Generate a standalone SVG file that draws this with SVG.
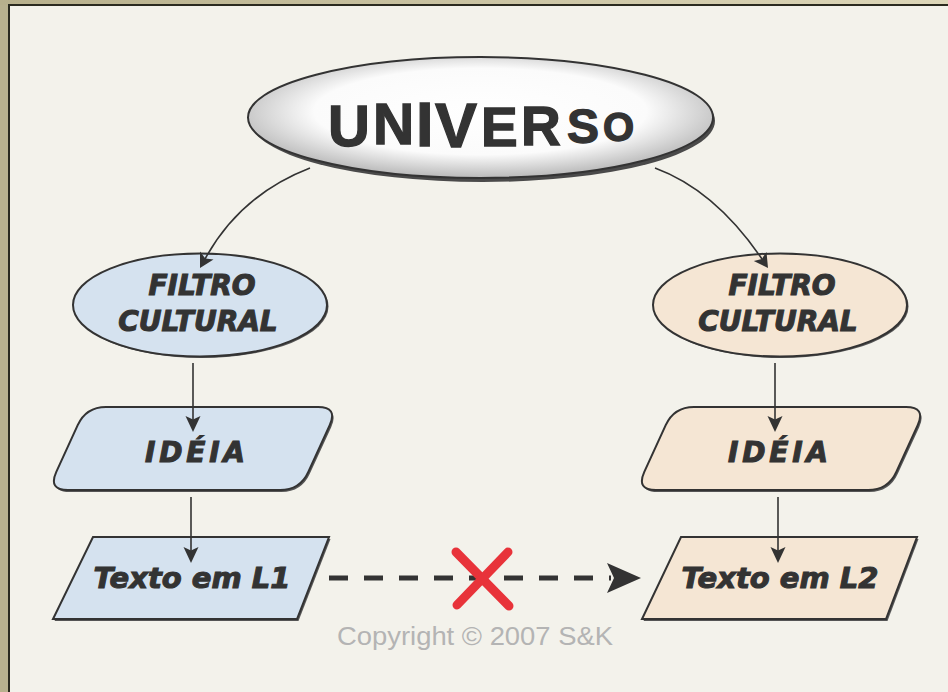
<svg xmlns="http://www.w3.org/2000/svg" width="948" height="692" viewBox="0 0 948 692">
  <defs>
    <linearGradient id="band" x1="0" y1="0" x2="1" y2="0">
      <stop offset="0" stop-color="#b7b08c"/>
      <stop offset="1" stop-color="#ddd7b9"/>
    </linearGradient>
    <radialGradient id="uni" cx="0.5" cy="0.45" r="0.55">
      <stop offset="0" stop-color="#ffffff"/>
      <stop offset="0.65" stop-color="#fbfbfb"/>
      <stop offset="1" stop-color="#b9b9b9"/>
    </radialGradient>
    <style>
      .conn { fill: none; stroke: #333; stroke-width: 1.6; }
      .ah { fill: #333; stroke: none; }
      .blue { fill: #d5e2ef; stroke: #333; stroke-width: 2; }
      .tan { fill: #f5e6d4; stroke: #333; stroke-width: 2; }
      .shadow { fill: #555; }
      .lbl { font-family: "DejaVu Sans", "Liberation Sans", sans-serif; font-weight: bold; font-style: italic; fill: #333; stroke: #333; stroke-width: 1.1; text-anchor: middle; }
    </style>
  </defs>

  <!-- frame -->
  <rect x="0" y="0" width="948" height="692" fill="#b8b18e"/>
  <rect x="0" y="0" width="948" height="5" fill="url(#band)"/>
  <rect x="8" y="4" width="940" height="688" fill="#2a2a1f"/>
  <rect x="10" y="6" width="938" height="686" fill="#f3f2eb"/>

  <!-- UNIVERSO -->
  <g id="universo">
    <ellipse cx="483" cy="121" rx="232" ry="61" fill="#4a4a4a"/>
    <ellipse cx="480.5" cy="117.5" rx="232.5" ry="60.5" fill="url(#uni)" stroke="#333" stroke-width="2"/>
    <text font-family="'Liberation Sans', Arial, sans-serif" font-weight="bold" fill="#333" stroke="#333" stroke-width="1.3"><tspan x="328" y="146" font-size="58">U</tspan><tspan x="373" y="144" font-size="57">N</tspan><tspan x="416" y="146" font-size="63">I</tspan><tspan x="435" y="147" font-size="63">V</tspan><tspan x="481" y="146" font-size="55">E</tspan><tspan x="521" y="145" font-size="55">R</tspan><tspan x="567" y="143" font-size="48">S</tspan><tspan x="603" y="141" font-size="40">O</tspan></text>
  </g>

  <!-- left column -->
  <g id="filtro-l1">
    <ellipse cx="201.5" cy="306.5" rx="127" ry="51.5" class="shadow"/>
    <ellipse cx="200" cy="305" rx="127" ry="51.5" class="blue"/>
    <text class="lbl" x="202" y="295" font-size="28">FILTRO</text>
    <text class="lbl" x="198" y="331" font-size="28">CULTURAL</text>
  </g>
  <g id="ideia-l1">
    <path class="shadow" transform="translate(1.5,2)" d="M106,407 L318,407 Q338,407 329.7,425.2 L308.3,471.8 Q300,490 280,490 L68,490 Q48,490 56.3,471.8 L77.7,425.2 Q86,407 106,407 Z"/>
    <path class="blue" d="M106,407 L318,407 Q338,407 329.7,425.2 L308.3,471.8 Q300,490 280,490 L68,490 Q48,490 56.3,471.8 L77.7,425.2 Q86,407 106,407 Z"/>
    <text class="lbl" x="195" y="462" font-size="28" textLength="100" lengthAdjust="spacing">IDÉIA</text>
  </g>
  <g id="texto-l1">
    <polygon class="shadow" transform="translate(1.5,2)" points="93,537 329,537 297,619 53,619"/>
    <polygon class="blue" points="93,537 329,537 297,619 53,619"/>
    <text class="lbl" x="192" y="588" font-size="29">Texto em L1</text>
  </g>

  <!-- right column -->
  <g id="filtro-l2">
    <ellipse cx="781.5" cy="306.5" rx="127" ry="51.5" class="shadow"/>
    <ellipse cx="780" cy="305" rx="127" ry="51.5" class="tan"/>
    <text class="lbl" x="782" y="295" font-size="28">FILTRO</text>
    <text class="lbl" x="778" y="331" font-size="28">CULTURAL</text>
  </g>
  <g id="ideia-l2">
    <g transform="translate(588,0)">
      <path class="shadow" transform="translate(1.5,2)" d="M106,407 L318,407 Q338,407 329.7,425.2 L308.3,471.8 Q300,490 280,490 L68,490 Q48,490 56.3,471.8 L77.7,425.2 Q86,407 106,407 Z"/>
      <path class="tan" d="M106,407 L318,407 Q338,407 329.7,425.2 L308.3,471.8 Q300,490 280,490 L68,490 Q48,490 56.3,471.8 L77.7,425.2 Q86,407 106,407 Z"/>
    </g>
    <text class="lbl" x="778" y="462" font-size="28" textLength="100" lengthAdjust="spacing">IDÉIA</text>
  </g>
  <g id="texto-l2">
    <polygon class="shadow" transform="translate(1.5,2)" points="681,537 917,537 886,619 642,619"/>
    <polygon class="tan" points="681,537 917,537 886,619 642,619"/>
    <text class="lbl" x="780" y="588" font-size="29">Texto em L2</text>
  </g>

  <!-- connectors (drawn over nodes, arrowheads overlap node interiors) -->
  <g id="connectors">
    <path class="conn" d="M310,168 Q240,195 205,259"/>
    <polygon class="ah" points="200,268 213.5,259.5 205.3,258.4 200,251.5"/>
    <path class="conn" d="M655,168 Q715,190 762,259"/>
    <polygon class="ah" points="768,268 766.5,252 761.8,258.9 753.8,261"/>
    <line class="conn" x1="193" y1="363" x2="193" y2="422"/>
    <polygon class="ah" points="193,432 185.5,416 193,419.5 200.5,416"/>
    <line class="conn" x1="191" y1="497" x2="191" y2="553"/>
    <polygon class="ah" points="191,563 183.5,547 191,550.5 198.5,547"/>
    <line class="conn" x1="775" y1="363" x2="775" y2="422"/>
    <polygon class="ah" points="775,432 767.5,416 775,419.5 782.5,416"/>
    <line class="conn" x1="778" y1="497" x2="778" y2="553"/>
    <polygon class="ah" points="778,563 770.5,547 778,550.5 785.5,547"/>
    <line x1="329" y1="578" x2="611" y2="578" stroke="#333" stroke-width="5" stroke-dasharray="19 16"/>
    <polygon class="ah" points="641,578 607,563 614,578 607,593"/>
    <g stroke="#e8333a" stroke-width="9" stroke-linecap="round">
      <line x1="456" y1="552" x2="509" y2="606"/>
      <line x1="508" y1="552" x2="457" y2="605"/>
    </g>
  </g>

  <text x="475" y="645" font-family="'Liberation Sans', Arial, sans-serif" font-size="25" fill="#b4b4b4" text-anchor="middle" textLength="276" lengthAdjust="spacingAndGlyphs">Copyright © 2007 S&amp;K</text>
</svg>
